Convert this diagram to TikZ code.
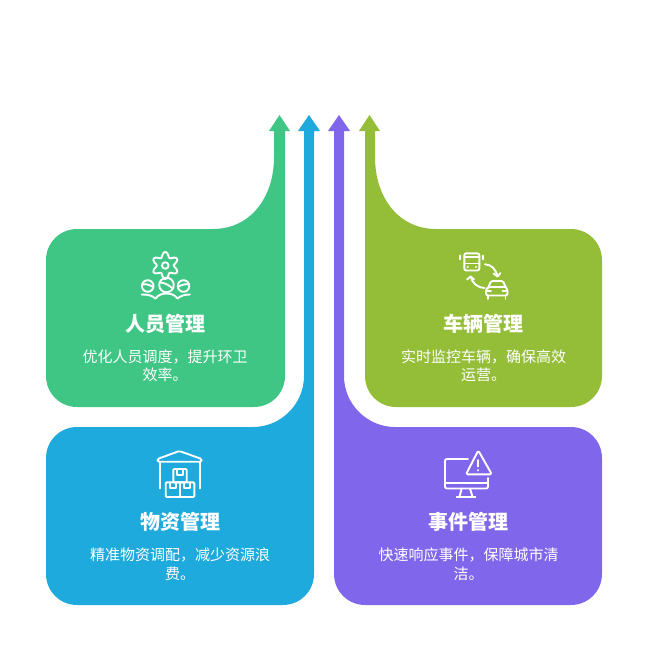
\documentclass[tikz,border=0pt]{standalone}
\usepackage{fontspec}
\setmainfont{Noto Sans CJK SC}
\usepackage{tikz}

\definecolor{peoplegreen}{RGB}{63,198,132}
\definecolor{goodsblue}{RGB}{30,170,220}
\definecolor{eventpurple}{RGB}{128,102,234}
\definecolor{carolive}{RGB}{148,190,56}

\tikzset{
	titlenode/.style={text=white,font=\fontsize{20}{22}\selectfont\bfseries,inner sep=0pt},
	bodynode/.style={text=white,font=\fontsize{15}{18.5}\selectfont,align=center,inner sep=0pt},
	iconline/.style={draw=white,line width=1.9pt,line cap=round,line join=round}
}

\begin{document}
\begin{tikzpicture}[x=1pt,y=-1pt]
	
	\useasboundingbox (0,0) rectangle (648,650);
	
	% cards with their arrows
	\fill[peoplegreen] (213,229) [rounded corners=31] -- (46,229) -- (46,407) -- (285,407) -- (285,300) [sharp corners] -- (285,131) -- (290,131) -- (279.5,115) -- (269,131) -- (274,131) -- (274,157) .. controls (274,198) and (250,229) .. (213,229) -- cycle;
	\fill[goodsblue] (253,427) [rounded corners=31] -- (46,427) -- (46,605) -- (314,605) -- (314,500) [sharp corners] -- (314,131) -- (320,131) -- (309,115) -- (298,131) -- (304,131) -- (304,376) .. controls (304,404) and (281,427) .. (253,427) -- cycle;
	\fill[eventpurple] (395,427) [rounded corners=31] -- (602,427) -- (602,605) -- (334,605) -- (334,500) [sharp corners] -- (334,131) -- (328,131) -- (339,115) -- (350,131) -- (344,131) -- (344,376) .. controls (344,404) and (367,427) .. (395,427) -- cycle;
	\fill[carolive] (436,229) [rounded corners=31] -- (602,229) -- (602,407) -- (365,407) -- (365,300) [sharp corners] -- (365,131) -- (359,131) -- (369.5,115) -- (380,131) -- (375,131) -- (375,157) .. controls (375,198) and (399,229) .. (436,229) -- cycle;
	
	% texts
	\node[titlenode] (peopletitle) at (165.5,323.5) {人员管理};
	\node[bodynode] (peoplebody) at (165,366) {优化人员调度，提升环卫\\效率。};
	\node[titlenode] (cartitle) at (483.5,323.5) {车辆管理};
	\node[bodynode] (carbody) at (483.5,366) {实时监控车辆，确保高效\\运营。};
	\node[titlenode] (goodstitle) at (180,521.5) {物资管理};
	\node[bodynode] (goodsbody) at (180,564) {精准物资调配，减少资源浪\\费。};
	\node[titlenode] (eventtitle) at (468.5,521.5) {事件管理};
	\node[bodynode] (eventbody) at (468.5,564) {快速响应事件，保障城市清\\洁。};
	
	% people icon
	\draw[iconline] plot[domain=0:355,samples=48,smooth cycle] ({165.3+(11-2.6*cos(6*\x))*cos(\x)},{265.5+(11-2.6*cos(6*\x))*sin(\x)});
	\draw[iconline] (165.3,265.5) circle (3.3);
	\draw[iconline] (166.5,285) circle (7.3);
	\draw[iconline] (147.7,286) circle (5.8);
	\draw[iconline] (183.5,286) circle (5.8);
	\draw[iconline] (160,282.5) .. controls (164,282.5) and (169,285) .. (172,288);
	\draw[iconline] (142.5,284.5) .. controls (146,283.5) and (150,285) .. (153,287);
	\draw[iconline] (178,287) .. controls (181,285) and (185,283.5) .. (189,284.5);
	\draw[iconline] (141.7,294.5) .. controls (148,294.5) and (152,295.5) .. (155.5,298.5) .. controls (158,295) and (162,293.5) .. (166.5,293.5) .. controls (171,293.5) and (175,295) .. (177.5,298.5) .. controls (181,295.5) and (185,294.5) .. (190,294.5);
	
	% vehicle icon
	\draw[iconline,rounded corners=2] (464.3,253.3) rectangle (479.3,270.5);
	\draw[iconline] (464.3,257) -- (479.3,257);
	\draw[iconline] (464.3,263.5) -- (479.3,263.5);
	\draw[iconline] (467.5,266.8) -- (467.8,266.8);
	\draw[iconline] (475.8,266.8) -- (476.1,266.8);
	\draw[iconline] (460.3,255.5) -- (460.3,259.5);
	\draw[iconline] (483.3,255.5) -- (483.3,259.5);
	\draw[iconline] (485,264.3) .. controls (491,264.5) and (496,269) .. (497.5,276.5);
	\draw[iconline] (493.5,273.5) -- (497.5,276.5) -- (500.5,273);
	\draw[iconline] (484.5,288) .. controls (478,288) and (472,283) .. (470.7,276.5);
	\draw[iconline] (467,279.5) -- (470.7,276.5) -- (474,279.5);
	\draw[iconline,rounded corners=1.5] (488.5,287) -- (491,281) -- (503,281) -- (505.5,287) -- (507.5,289.5) -- (507.5,295.5) -- (486,295.5) -- (486,289.5) -- (488.5,287) -- (505.5,287);
	\draw[iconline] (486,291) -- (491,291);
	\draw[iconline] (502.5,291) -- (507.5,291);
	\draw[iconline] (488,295.5) -- (488,298.8);
	\draw[iconline] (505.5,295.5) -- (505.5,298.8);
	
	% warehouse icon
	\draw[iconline,rounded corners=1.5] (179.3,451) -- (201.7,459) -- (201.7,461.7) -- (157.5,461.7) -- (157.5,459) -- cycle;
	\draw[iconline] (160,462) -- (160,488.5);
	\draw[iconline] (200,462) -- (200,488.5);
	\draw[iconline,rounded corners=1] (173.3,469) rectangle (186.7,482.3);
	\draw[iconline] (176.7,469) -- (176.7,475) -- (182.7,475) -- (182.7,469);
	\draw[iconline,rounded corners=1] (165.7,482.3) rectangle (194.3,497);
	\draw[iconline] (180,482.3) -- (180,497);
	\draw[iconline] (170,482.3) -- (170,488) -- (175.7,488) -- (175.7,482.3);
	\draw[iconline] (184.3,482.3) -- (184.3,488) -- (190,488) -- (190,482.3);
	
	% monitor icon
	\draw[iconline,rounded corners=2] (468,459) -- (445,459) -- (445,488.5) -- (488,488.5) -- (488,478);
	\draw[iconline] (445,482.7) -- (488,482.7);
	\draw[iconline] (461.7,488.5) -- (459.5,496.7);
	\draw[iconline] (470,488.5) -- (472.5,496.7);
	\draw[iconline] (456.7,496.7) -- (475.5,496.7);
	\draw[iconline,rounded corners=1.5] (478.3,450.5) -- (491.8,474.3) -- (466,474.3) -- cycle;
	\draw[iconline] (478.3,460) -- (478.3,466.5);
	\draw[iconline] (478.3,470) -- (478.3,470.4);
	
	\end{tikzpicture}
\end{document}
